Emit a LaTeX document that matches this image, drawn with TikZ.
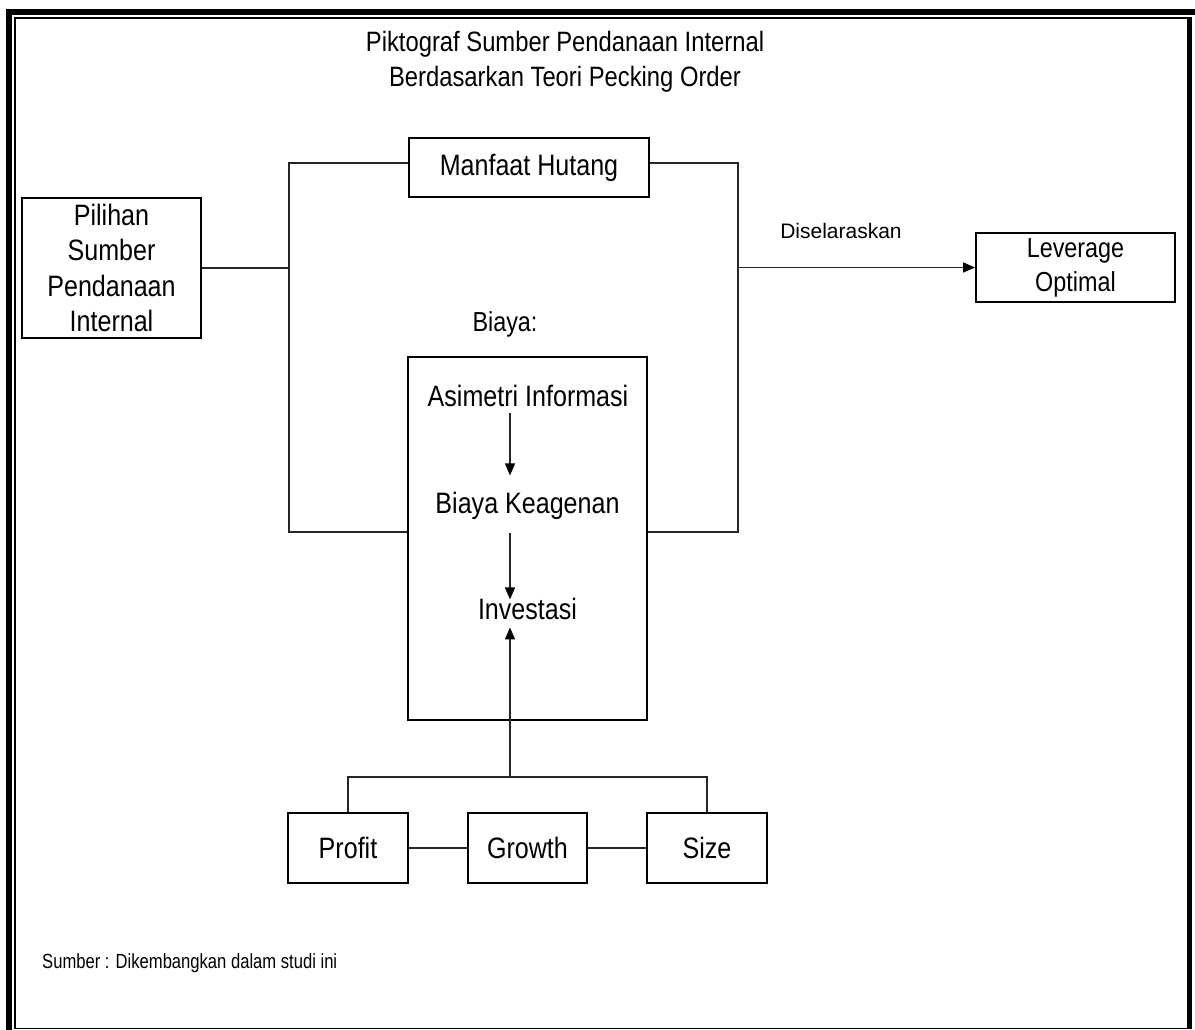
\documentclass[tikz,border=0pt]{standalone}
\usepackage{fontspec}
\setmainfont{Liberation Sans}[FakeStretch=0.85]
\newfontfamily\widefont{Liberation Sans}
\newfontfamily\notefont{Liberation Sans}[FakeStretch=0.81]
\usetikzlibrary{arrows.meta}

\begin{document}
\begin{tikzpicture}[x=1pt,y=-1pt,
  box/.style={draw=black, line width=1.8pt, inner sep=0pt, align=center,
              font=\fontsize{29.5}{35.5}\selectfont},
  txt/.style={inner sep=0pt, font=\fontsize{29.5}{35.5}\selectfont},
  wire/.style={draw=black!85, line width=1.4pt},
  arr/.style={wire, -{Triangle[length=12pt,width=10pt,color=black]}},
]
\useasboundingbox (0,0) rectangle (1195,1030);

% page frame: heavy rule on top and left, thin inner rectangle
\fill (6,9) rectangle (1195,15);
\fill (6,9) rectangle (12,1030);
\draw[line width=1.8pt] (15,18) rectangle (1189,1028.5);
\fill (1187,17) rectangle (1192,1029);

% title
\node[txt, anchor=base, font=\fontsize{28}{34}\selectfont] (title1) at (565,52)
  {Piktograf Sumber Pendanaan Internal};
\node[txt, anchor=base, font=\fontsize{28}{34}\selectfont] (title2) at (565,87)
  {Berdasarkan Teori Pecking Order};

% boxes
\node[box, minimum width=240pt, minimum height=59pt] (manfaat) at (529,167.5) {Manfaat Hutang};
\node[box, minimum width=179pt, minimum height=140pt] (pilihan) at (111.5,268)
  {Pilihan\\Sumber\\Pendanaan\\Internal};
\node[box, minimum width=199pt, minimum height=69pt, font=\fontsize{27.5}{34}\selectfont]
  (leverage) at (1075.5,267.5) {Leverage\\Optimal};
\node[txt, anchor=base, font=\widefont\fontsize{21}{25}\selectfont] (selaras) at (841,239) {Diselaraskan};

\node[txt, anchor=base, font=\fontsize{27.5}{33}\selectfont] (biayalbl) at (505,331) {Biaya:};
\node[box, minimum width=239pt, minimum height=363pt] (biaya) at (527.5,538.5) {};
\node[txt, anchor=base] (asimetri) at (528,406) {Asimetri Informasi};
\node[txt, anchor=base] (keagenan) at (527.5,513) {Biaya Keagenan};
\node[txt, anchor=base] (investasi) at (527.5,619) {Investasi};

\node[box, minimum width=120pt, minimum height=70pt] (profit) at (348,848) {Profit};
\node[box, minimum width=119pt, minimum height=70pt] (growth) at (527.5,848) {Growth};
\node[box, minimum width=120pt, minimum height=70pt] (size) at (707,848) {Size};

\node[txt, anchor=base west, font=\notefont\fontsize{20.5}{24}\selectfont] (sumber) at (42,968)
  {Sumber : Dikembangkan dalam studi ini};

% bracket joining the choice box to benefit and cost
\coordinate (lt) at (289,163);
\coordinate (rt) at (738,163);
\coordinate (lb) at (289,532);
\coordinate (rb) at (738,532);
\draw[wire] (manfaat.west |- lt) -- (lt) -- (lb) -- (biaya.west |- lb);
\draw[wire] (manfaat.east |- rt) -- (rt) -- (rb) -- (biaya.east |- rb);
\draw[wire] (pilihan.east) -- (pilihan.east -| lt);
\draw[arr] (leverage.west -| rt) -- (leverage.west);

% chain inside the cost box
\coordinate (ax) at (510,0);
\draw[arr, shorten <=7pt, shorten >=16pt] (asimetri.south -| ax) -- (keagenan.north -| ax);
\draw[arr, shorten <=14pt, shorten >=-2pt] (keagenan.south -| ax) -- (investasi.north -| ax);

% firm characteristics feeding investment
\draw[wire] (profit.north) -- ++(0,-35) coordinate (busl) -| (size.north);
\coordinate (bus) at (busl -| ax);
\draw[arr, shorten >=8pt] (bus) -- (investasi.south -| ax);
\draw[wire] (profit) -- (growth) -- (size);
\end{tikzpicture}
\end{document}
